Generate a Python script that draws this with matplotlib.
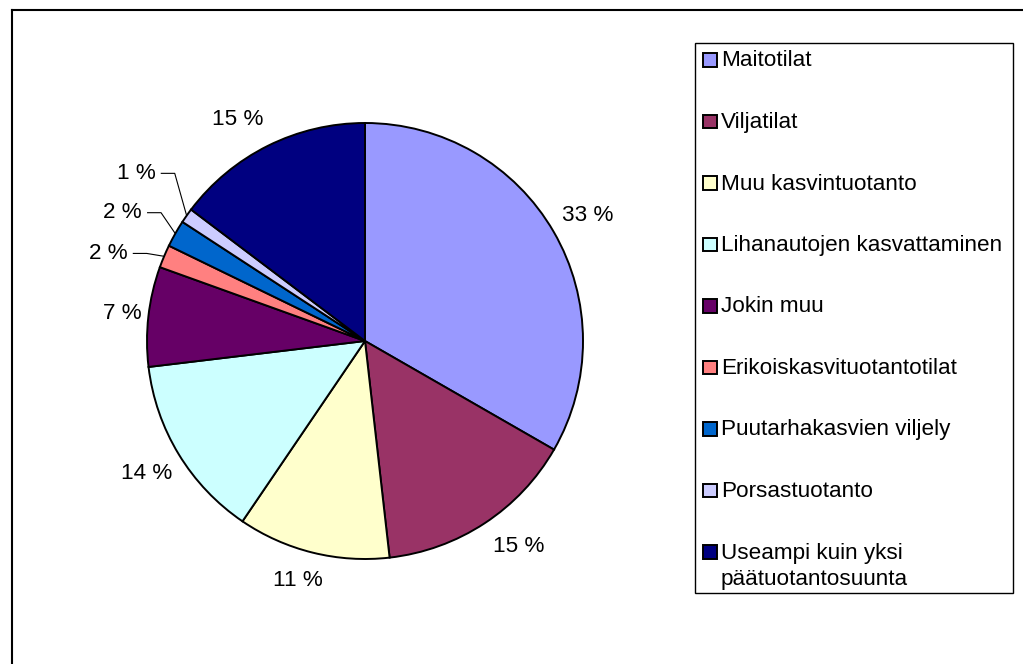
import matplotlib
matplotlib.use('Agg')
import matplotlib.pyplot as plt
import numpy as np
from matplotlib.patches import Rectangle
from matplotlib.lines import Line2D

plt.rcParams['font.family'] = ['Liberation Sans', 'DejaVu Sans']

# ---- data ----
categories = ['Maitotilat', 'Viljatilat', 'Muu kasvintuotanto',
              'Lihanautojen kasvattaminen', 'Jokin muu',
              'Erikoiskasvituotantotilat', 'Puutarhakasvien viljely',
              'Porsastuotanto', 'Useampi kuin yksi\npäätuotantosuunta']
values = [33.3, 14.9, 11.3, 13.6, 7.4, 1.7, 2.0, 1.1, 14.7]
colors = ['#9999FF', '#993366', '#FFFFCC', '#CCFFFF', '#660066',
          '#FF8080', '#0066CC', '#CCCCFF', '#000080']
label_texts = ['%d %%' % round(v) for v in values]

# label placement (radius in pie radii, leader flag, angular nudge in degrees)
label_r = [1.17, 1.18, 1.14, 1.17, 1.12, 1.16, 1.18, 1.23, 1.17]
leader = [False, False, False, False, False, True, True, True, False]
label_shift = [-0.7, 3.5, -1.8, 0, 0, 2.6, -0.4, -3.6, 3.4]

W, H = 1023, 664
fig = plt.figure(figsize=(W / 100, H / 100), dpi=100)

R_px = 218.0
cx, cy = 365, 341
lim = 1.45
half = lim * R_px
ax = fig.add_axes([(cx - half) / W, (H - cy - half) / H, 2 * half / W, 2 * half / H])

wedges, _ = ax.pie(values, colors=colors, startangle=90, counterclock=False,
                   radius=1, wedgeprops=dict(edgecolor='black', linewidth=1.4))
ax.set_xlim(-lim, lim)
ax.set_ylim(-lim, lim)
ax.axis('off')

FS = 16.2
px = 1.0 / R_px
for w, txt, r, ld, sh in zip(wedges, label_texts, label_r, leader, label_shift):
    mid = np.deg2rad((w.theta1 + w.theta2) / 2)
    a = mid + np.deg2rad(sh)
    if not ld:
        ax.text(r * np.cos(a), r * np.sin(a), txt, ha='center', va='center',
                fontsize=FS, color='black')
    else:
        xa, ya = r * np.cos(a), r * np.sin(a)
        ax.text(xa, ya, txt, ha='right', va='center', fontsize=FS, color='black')
        x0 = xa + 5 * px
        x1 = xa + 19 * px
        ax.plot([x0, x1, np.cos(mid)], [ya, ya, np.sin(mid)], color='black',
                lw=0.8, solid_capstyle='butt')

# ---- legend drawn in figure pixel space ----
def fx(x):
    return x / W

def fy(y):
    return 1 - y / H

lx0, ly0, lx1, ly1 = 695, 42.5, 1013, 592.5
fig.add_artist(Rectangle((fx(lx0), fy(ly1)), fx(lx1) - fx(lx0), fy(ly0) - fy(ly1),
                         transform=fig.transFigure, facecolor='white',
                         edgecolor='black', lw=1.0))
y_first = 60
step = 61.5
sq = 13.5
for i, (cat, col) in enumerate(zip(categories, colors)):
    yc = y_first + i * step
    fig.add_artist(Rectangle((fx(703), fy(yc + sq / 2)), sq / W, sq / H,
                             transform=fig.transFigure, facecolor=col,
                             edgecolor='black', lw=1.4))
    for j, line in enumerate(cat.split('\n')):
        fig.text(fx(721), fy(yc + 1 + j * 26), line, ha='left', va='center',
                 fontsize=FS, color='black')

# outer chart border (top and left visible)
fig.add_artist(Line2D([fx(12), fx(W)], [fy(10), fy(10)], transform=fig.transFigure,
                      color='black', lw=1.5))
fig.add_artist(Line2D([fx(12), fx(12)], [fy(10), fy(H)], transform=fig.transFigure,
                      color='black', lw=1.5))

fig.savefig('out.png', dpi=100, facecolor='white')
